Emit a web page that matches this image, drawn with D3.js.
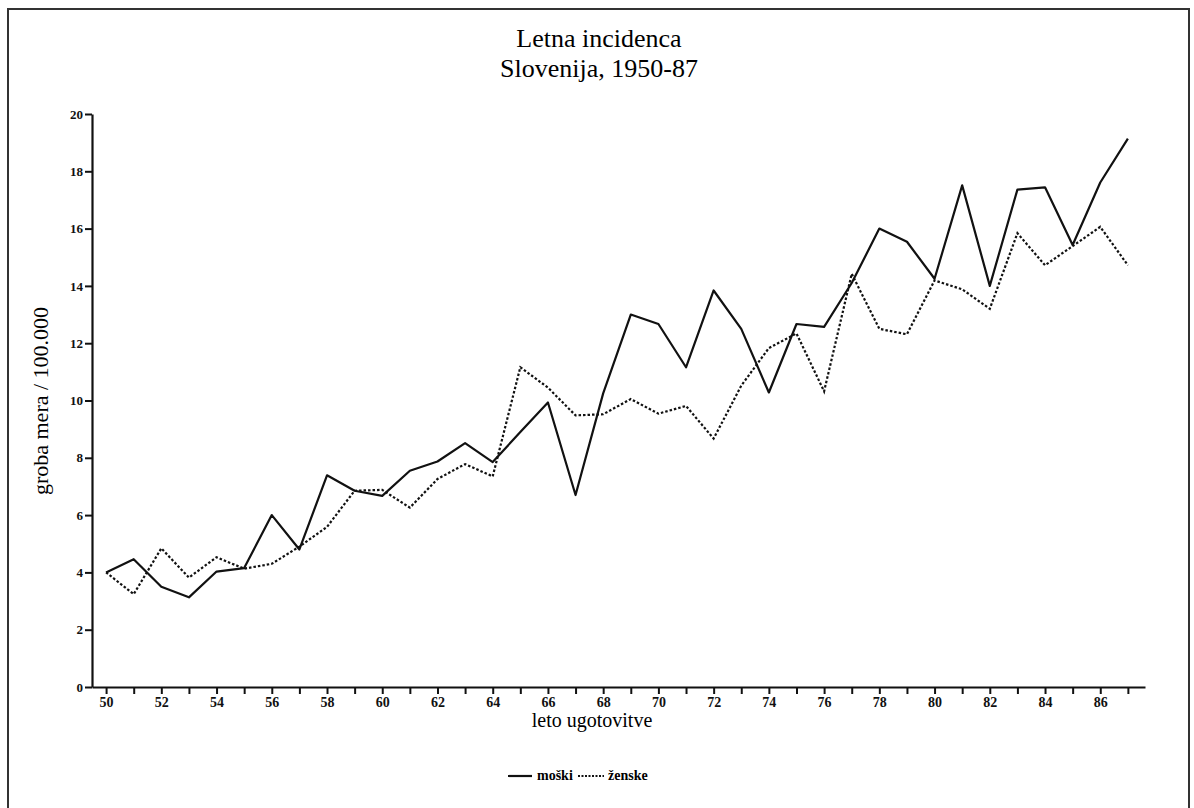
<!DOCTYPE html>
<html>
<head>
<meta charset="utf-8">
<script src="https://cdn.jsdelivr.net/npm/d3@7"></script>
<style>
  body { margin: 0; background: #fff; }
  svg { display: block; font-family: "Liberation Serif", "Times New Roman", serif; }
</style>
</head>
<body>
<script>
const w = 1194;
const h = 808;

// data (incidence per 100.000)
const years = d3.range(50, 88);
const moski = [4.0, 4.46, 3.5, 3.13, 4.03, 4.15, 6.0, 4.8, 7.39, 6.85,
  6.67, 7.55, 7.87, 8.51, 7.85, 8.9, 9.93, 6.7, 10.25, 13.0,
  12.67, 11.16, 13.84, 12.5, 10.28, 12.67, 12.57, 14.1, 16.0, 15.54,
  14.25, 17.51, 14.0, 17.36, 17.44, 15.43, 17.61, 19.14];
const zenske = [4.0, 3.24, 4.84, 3.82, 4.53, 4.13, 4.3, 4.9, 5.59, 6.85,
  6.88, 6.26, 7.26, 7.78, 7.35, 11.16, 10.45, 9.48, 9.52, 10.05,
  9.54, 9.81, 8.67, 10.52, 11.83, 12.34, 10.32, 14.42, 12.5, 12.31,
  14.19, 13.88, 13.2, 15.84, 14.72, 15.39, 16.06, 14.72];
const yTicks = d3.range(0, 21, 2);
const seriesNames = ["moški", "ženske"];

const svg = d3.select("body")
  .append("svg")
  .attr("width", w)
  .attr("height", h);

// frame round the page
svg.append("path")
  .attr("d", "M8,812 V9 H1189 V812")
  .attr("fill", "none")
  .attr("stroke", "#333")
  .attr("stroke-width", 2);

// scales - x axis line runs a bit past first/last year
const x = d3.scaleLinear().domain([50 - 0.51, 87 + 0.62]).range([92, 1145]);
const y = d3.scaleLinear().domain([0, 20]).range([687, 114]);

// title
svg.append("text")
  .attr("x", 599).attr("y", 47)
  .attr("text-anchor", "middle")
  .style("font-size", "26px")
  .text("Letna incidenca");
svg.append("text")
  .attr("x", 599).attr("y", 77)
  .attr("text-anchor", "middle")
  .style("font-size", "26px")
  .text("Slovenija, 1950-87");

// axes
const xAxis = d3.axisBottom(x)
  .tickValues(years)
  .tickSize(7)
  .tickSizeOuter(0)
  .tickPadding(3)
  .tickFormat(d => (d % 2 === 0 ? d : ""));

const yAxis = d3.axisLeft(y)
  .tickValues(yTicks)
  .tickSize(7)
  .tickSizeOuter(0)
  .tickPadding(2);

const gx = svg.append("g")
  .attr("transform", `translate(0,${y(0)})`)
  .call(xAxis);

const gy = svg.append("g")
  .attr("transform", `translate(${x.range()[0]},0)`)
  .call(yAxis);

[gx, gy].forEach(g => {
  g.select(".domain").attr("stroke", "#111").attr("stroke-width", 2.2);
  g.selectAll(".tick line").attr("stroke", "#111").attr("stroke-width", 2);
  g.selectAll("text")
    .attr("fill", "#111")
    .style("font-family", "Liberation Serif")
    .style("font-weight", "bold");
});
gx.selectAll("text").style("font-size", "14px");
gy.selectAll("text").style("font-size", "13px");

// axis titles
svg.append("text")
  .attr("x", 592).attr("y", 727)
  .attr("text-anchor", "middle")
  .style("font-size", "20px")
  .text("leto ugotovitve");

svg.append("text")
  .attr("transform", "translate(48,401) rotate(-90)")
  .attr("text-anchor", "middle")
  .style("font-size", "22px")
  .text("groba mera / 100.000");

// lines
const line = d3.line()
  .x((d, i) => x(years[i]))
  .y(d => y(d));

svg.append("path")
  .datum(moski)
  .attr("d", line)
  .attr("fill", "none")
  .attr("stroke", "#111")
  .attr("stroke-width", 2.2)
  .attr("stroke-linejoin", "round");

svg.append("path")
  .datum(zenske)
  .attr("d", line)
  .attr("fill", "none")
  .attr("stroke", "#111")
  .attr("stroke-width", 2.2)
  .attr("stroke-dasharray", "2.5,2");

// legend
const legend = svg.append("g").attr("transform", "translate(508,776)");

legend.append("line")
  .attr("x1", 0).attr("x2", 24).attr("y1", 0).attr("y2", 0)
  .attr("stroke", "#111").attr("stroke-width", 2.2);
legend.append("text")
  .attr("x", 29).attr("y", 4)
  .style("font-size", "14px")
  .style("font-weight", "bold")
  .text(seriesNames[0]);

legend.append("line")
  .attr("x1", 70).attr("x2", 96).attr("y1", 0).attr("y2", 0)
  .attr("stroke", "#111").attr("stroke-width", 2)
  .attr("stroke-dasharray", "2,1.5");
legend.append("text")
  .attr("x", 100).attr("y", 4)
  .style("font-size", "14px")
  .style("font-weight", "bold")
  .text(seriesNames[1]);
</script>
</body>
</html>
